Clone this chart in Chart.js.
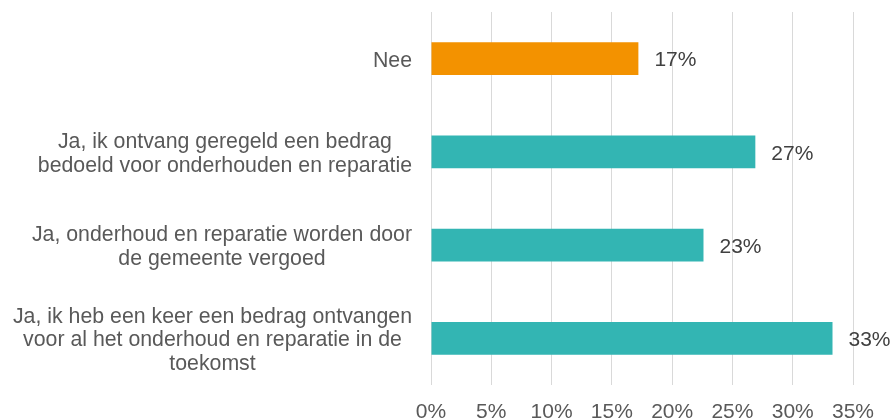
<!DOCTYPE html>
<html>
<head>
<meta charset="utf-8">
<script src="https://cdn.jsdelivr.net/npm/chart.js@4/dist/chart.umd.min.js"></script>
<style>
  html, body { margin: 0; padding: 0; background: #fff; }
  #wrap { width: 894px; height: 420px; position: relative; }
</style>
</head>
<body>
<div id="wrap"><canvas id="chart"></canvas></div>
<script>
// answer categories, one array of lines per bar
const categories = [
  ['Nee'],
  ['Ja, ik ontvang geregeld een bedrag', 'bedoeld voor onderhouden en reparatie'],
  ['Ja, onderhoud en reparatie worden door', 'de gemeente vergoed'],
  ['Ja, ik heb een keer een bedrag ontvangen', 'voor al het onderhoud en reparatie in de', 'toekomst']
];
// share of respondents, in percent
const shares = [17.2, 26.9, 22.6, 33.3];
const barColors = ['#F39200', '#33B5B3', '#33B5B3', '#33B5B3'];
const xTickValues = [0, 5, 10, 15, 20, 25, 30, 35];

const FONT = '"Liberation Sans", Arial, sans-serif';

// category text: block right-aligned next to the axis, lines centred inside the block
const categoryLabels = {
  id: 'categoryLabels',
  afterDraw(chart) {
    const { ctx, chartArea, scales } = chart;
    const lineH = 23.5;
    ctx.save();
    ctx.font = '21.3px ' + FONT;
    ctx.fillStyle = '#595959';
    ctx.textAlign = 'center';
    ctx.textBaseline = 'middle';
    categories.forEach((lines, i) => {
      const w = Math.max(...lines.map(l => ctx.measureText(l).width));
      const cx = chartArea.left - 19 - w / 2;
      const cy = scales.y.getPixelForValue(i) + 2;
      lines.forEach((l, j) => {
        ctx.fillText(l, cx, cy + (j - (lines.length - 1) / 2) * lineH);
      });
    });
    ctx.restore();
  }
};

// percentage printed after each bar
const valueLabels = {
  id: 'valueLabels',
  afterDatasetsDraw(chart) {
    const { ctx } = chart;
    const meta = chart.getDatasetMeta(0);
    ctx.save();
    ctx.font = '21px ' + FONT;
    ctx.fillStyle = '#404040';
    ctx.textAlign = 'left';
    ctx.textBaseline = 'middle';
    meta.data.forEach((bar, i) => {
      ctx.fillText(Math.round(shares[i]) + '%', bar.x + 16, bar.y + 2);
    });
    ctx.restore();
  }
};

new Chart(document.getElementById('chart'), {
  type: 'bar',
  data: {
    labels: categories.map(c => c.join(' ')),
    datasets: [{
      data: shares,
      backgroundColor: barColors,
      borderWidth: 0,
      categoryPercentage: 1,
      barPercentage: 0.35
    }]
  },
  options: {
    indexAxis: 'y',
    responsive: true,
    maintainAspectRatio: false,
    animation: false,
    layout: { padding: { top: 12, right: 41, bottom: 0, left: 0 } },
    scales: {
      x: {
        min: 0,
        max: 35,
        afterBuildTicks: s => { s.ticks = xTickValues.map(v => ({ value: v })); },
        afterFit: s => { s.height = 35; },
        ticks: {
          callback: v => v + '%',
          color: '#595959',
          font: { family: FONT, size: 21, lineHeight: 1 },
          padding: 17,
          maxRotation: 0
        },
        grid: { color: '#D9D9D9', lineWidth: 1, drawTicks: false },
        border: { display: false }
      },
      y: {
        ticks: { display: false },
        grid: { display: false },
        border: { display: false },
        afterFit: s => { s.width = 431; }
      }
    },
    plugins: {
      legend: { display: false },
      tooltip: { enabled: false }
    }
  },
  plugins: [categoryLabels, valueLabels]
});
</script>
</body>
</html>
